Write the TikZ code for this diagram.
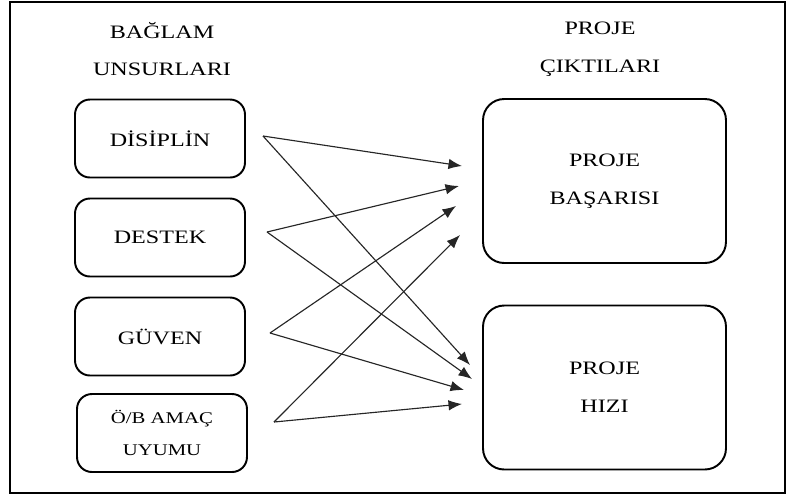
\documentclass[tikz,border=0pt]{standalone}
\usepackage{fontspec}
\setmainfont{Liberation Serif}[FakeStretch=1.27]
\usetikzlibrary{arrows.meta}

\begin{document}
\begin{tikzpicture}[x=0.02cm, y=-0.02cm,
    box/.style={draw, line width=1.1pt, rounded corners=8.5pt, minimum width=3.4cm,
      minimum height=1.56cm, align=center, inner sep=0pt,
      font=\fontsize{10.8}{21.5}\selectfont},
    outbox/.style={box, rounded corners=12pt, minimum width=4.86cm, minimum height=3.28cm},
    head/.style={align=center, inner sep=0pt, font=\fontsize{10.8}{21.5}\selectfont},
    arr/.style={-{Latex[length=2.7mm,width=2.1mm]}, line width=0.65pt, black!85}]

\useasboundingbox (0,0) rectangle (787,495);

% Outer frame
\draw[line width=1.2pt] (10,2) rectangle (785,493);

% Column headings
\node[head] (hleft)  at (162,49) {BAĞLAM\\UNSURLARI};
\node[head] (hright) at (600,49) {PROJE\\ÇIKTILARI};

% Context elements (left)
\node[box] (dis) at (160,138.5) {DİSİPLİN};
\node[box] (des) at (160,237.5) {DESTEK};
\node[box] (guv) at (160,336.5) {GÜVEN};
\node[box, font=\fontsize{9.3}{18}\selectfont] (ob) at (162,433) {Ö/B AMAÇ\\UYUMU};

% Project outcomes (right)
\node[outbox] (basari) at (604.5,181)   {PROJE\\BAŞARISI};
\node[outbox] (hiz)    at (604.5,387.5) {PROJE\\HIZI};

% Arrow start points
\coordinate (s1) at (263,136);
\coordinate (s2) at (267,232);
\coordinate (s3) at (270,333);
\coordinate (s4) at (274,422);

% Arrow tips towards the two outcomes
\coordinate (a1) at (462,166);
\coordinate (a2) at (459,186);
\coordinate (a3) at (456,206);
\coordinate (a4) at (460,235);
\coordinate (b1) at (470,365);
\coordinate (b2) at (472,379);
\coordinate (b3) at (464,390);
\coordinate (b4) at (462,404);

\foreach \i in {1,...,4}{
  \draw[arr] (s\i) -- (a\i);
  \draw[arr] (s\i) -- (b\i);
}

\end{tikzpicture}
\end{document}
